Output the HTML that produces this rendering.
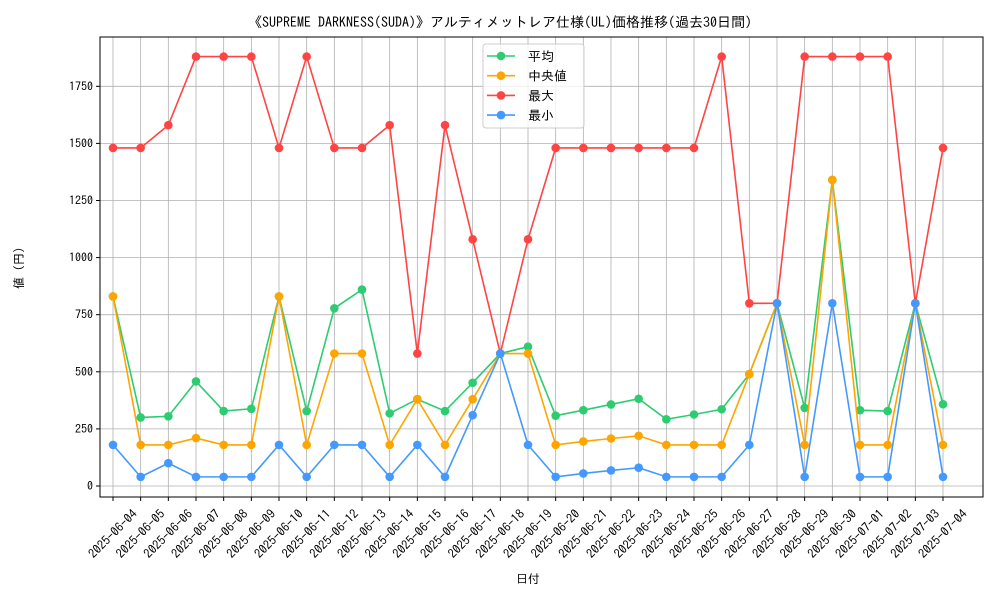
<!DOCTYPE html>
<html><head><meta charset="utf-8"><style>
body{margin:0;background:#fff;font-family:"IPAGothic","Liberation Sans","Noto Sans CJK JP",sans-serif;overflow:hidden;}
svg text{font-family:"IPAGothic","Liberation Sans","Noto Sans CJK JP",sans-serif;fill:#000;}
</style></head><body>
<svg id="chart" width="1000" height="600" style="display:block">
<text x="500" y="27" text-anchor="middle" font-size="14">《SUPREME DARKNESS(SUDA)》アルティメットレア仕様(UL)価格推移(過去30日間)</text>
<text x="528" y="583" text-anchor="middle" font-size="12">日付</text>
<text x="20" y="268" text-anchor="middle" font-size="12" dominant-baseline="middle" transform="rotate(-90 20 268)">値 (円)</text>
</svg>
<script>
const dates=["2025-06-04","2025-06-05","2025-06-06","2025-06-07","2025-06-08","2025-06-09","2025-06-10","2025-06-11","2025-06-12","2025-06-13","2025-06-14","2025-06-15","2025-06-16","2025-06-17","2025-06-18","2025-06-19","2025-06-20","2025-06-21","2025-06-22","2025-06-23","2025-06-24","2025-06-25","2025-06-26","2025-06-27","2025-06-28","2025-06-29","2025-06-30","2025-07-01","2025-07-02","2025-07-03","2025-07-04"];
const avgVals=[830,300,305,458,328,338,830,328,778,860,318,380,328,452,580,610,308,332,357,382,292,313,336,490,800,342,1340,332,328,800,358];
const medVals=[830,180,180,210,180,180,830,180,580,580,180,380,180,380,580,580,180,195,208,220,180,180,180,490,800,180,1340,180,180,800,180];
const maxVals=[1480,1480,1580,1880,1880,1880,1480,1880,1480,1480,1580,580,1580,1080,580,1080,1480,1480,1480,1480,1480,1480,1880,800,800,1880,1880,1880,1880,800,1480];
const minVals=[180,40,100,40,40,40,180,40,180,180,40,180,40,310,580,180,40,55,68,80,40,40,40,180,800,40,800,40,40,800,40];
const yTicks=[0,250,500,750,1000,1250,1500,1750];
const seriesNames=["平均","中央値","最大","最小"];
const colors=["#2ecc71","#ffa500","#ff4444","#4499ff"];

const NS="http://www.w3.org/2000/svg";
const svg=document.getElementById('chart');
const L=100,R=983,T=37,B=497;
const xS=i=>113+i*(943-113)/(dates.length-1);
const yS=v=>486-v*(57.1/250);
function mk(tag,attrs,parent){const e=document.createElementNS(NS,tag);for(const k in attrs)e.setAttribute(k,attrs[k]);(parent||svg).appendChild(e);return e;}

yTicks.forEach(t=>{
  const g=mk('line',{x1:L,x2:R,y1:yS(t),y2:yS(t),stroke:'#b0b0b0','stroke-width':0.8});
  
  
  mk('line',{x1:L-4,x2:L,y1:yS(t),y2:yS(t),stroke:'#000'});
  const tx=mk('text',{x:L-7,y:yS(t)+4,'text-anchor':'end','font-size':12});
  tx.textContent=t;
  
  
});
dates.forEach((d,i)=>{
  const g=mk('line',{x1:xS(i),x2:xS(i),y1:T,y2:B,stroke:'#b0b0b0','stroke-width':0.8});
  
  
  mk('line',{x1:xS(i),x2:xS(i),y1:B,y2:B+4,stroke:'#000'});
  const cx=xS(i), cy=534;
  const tx=mk('text',{x:cx,y:cy+4,'text-anchor':'middle','font-size':12.5,transform:`rotate(-45 ${cx} ${cy})`});
  tx.textContent=d;
  
  
});
const frame=mk('rect',{x:L,y:T,width:R-L,height:B-T,fill:'none',stroke:'#000','stroke-width':1});



[avgVals,medVals,maxVals,minVals].forEach((vals,si)=>{
  const g=mk('g',{});
  
  
  mk('polyline',{points:vals.map((v,i)=>xS(i)+','+yS(v)).join(' '),fill:'none',stroke:colors[si],'stroke-width':1.6},g);
  vals.forEach((v,i)=>{
    const c=mk('circle',{cx:xS(i),cy:yS(v),r:4.3,fill:colors[si]},g);
    
    
  });
});

const lg=mk('g',{});


mk('rect',{x:483,y:44,width:101,height:84,rx:3,fill:'#fff','fill-opacity':0.8,stroke:'#ccc'},lg);
seriesNames.forEach((n,i)=>{
  const y=56+i*19.7;
  const e=mk('g',{},lg);
  
  
  mk('line',{x1:487,x2:515,y1:y,y2:y,stroke:colors[i],'stroke-width':1.6},e);
  mk('circle',{cx:501,cy:y,r:4.3,fill:colors[i]},e);
  const t=mk('text',{x:528,y:y+5,'font-size':13},e);
  t.textContent=n;
});
</script>
</body></html>
